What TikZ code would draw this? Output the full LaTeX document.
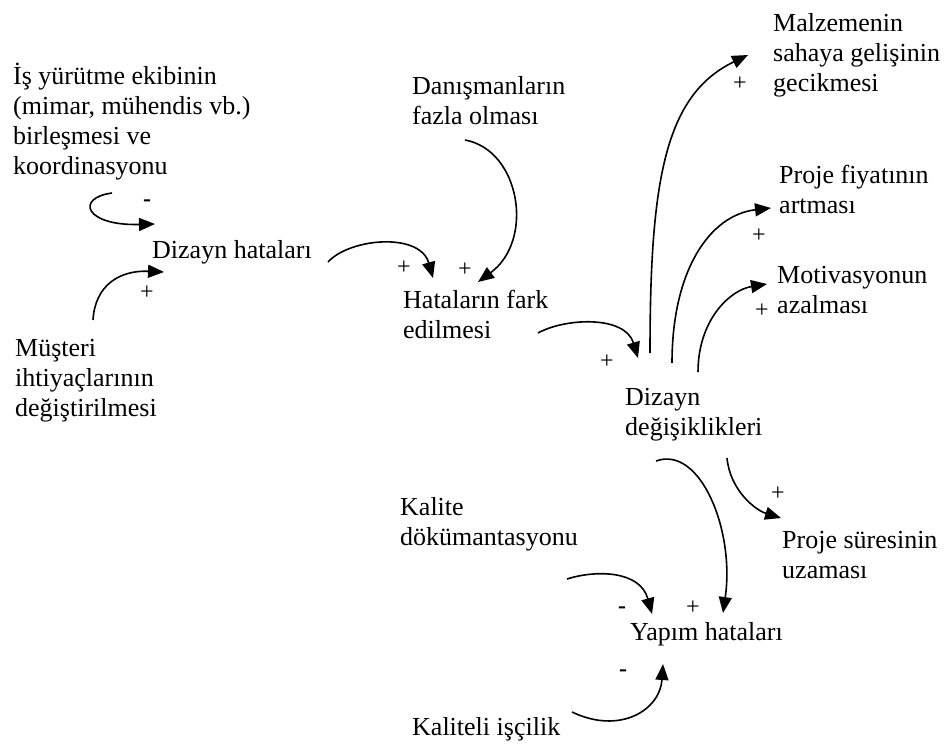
\documentclass[tikz,border=0pt]{standalone}
\usepackage{fontspec}
\setmainfont{Liberation Serif}
\usetikzlibrary{arrows.meta}
\begin{document}
\begin{tikzpicture}[x=1pt,y=-1pt,
  lbl/.style={inner sep=0pt,anchor=base west,align=left,
    font=\fontsize{26}{30}\selectfont},
  sgn/.style={inner sep=0pt,font=\fontsize{24}{24}\selectfont},
  neg/.style={inner sep=0pt,font=\fontsize{24}{24}\selectfont\bfseries},
  link/.style={line width=1.6pt,-{Triangle[length=16pt,width=13pt]}}]
\useasboundingbox[fill=white] (0,0) rectangle (945,747);

% factors (each placed at the baseline of its last line)
\node[lbl] (isler)   at (13,174)  {İş yürütme ekibinin\\(mimar, mühendis vb.)\\birleşmesi ve\\koordinasyonu};
\node[lbl] (dizhat)  at (152,258) {Dizayn hataları};
\node[lbl] (musteri) at (15,416)  {Müşteri\\ihtiyaçlarının\\değiştirilmesi};
\node[lbl] (danis)   at (412,124) {Danışmanların\\fazla olması};
\node[lbl] (hatfark) at (403,338) {Hataların fark\\edilmesi};
\node[lbl] (malz)    at (773,91)  {Malzemenin\\sahaya gelişinin\\gecikmesi};
\node[lbl] (fiyat)   at (779,213) {Proje fiyatının\\artması};
\node[lbl] (motiv)   at (777,313) {Motivasyonun\\azalması};
\node[lbl] (dizdeg)  at (625,435) {Dizayn\\değişiklikleri};
\node[lbl] (sure)    at (782,578) {Proje süresinin\\uzaması};
\node[lbl] (kalite)  at (400,545) {Kalite\\dökümantasyonu};
\node[lbl] (yapim)   at (630,640) {Yapım hataları};
\node[lbl] (iscilik) at (412,735) {Kaliteli işçilik};

% connector end points
\coordinate (a1s) at (112,193);  \coordinate (a1e) at (155,224);
\coordinate (a2s) at (93,320);   \coordinate (a2e) at (164,272);
\coordinate (a3s) at (328,262);  \coordinate (a3e) at (433,278);
\coordinate (a4s) at (465,140);  \coordinate (a4e) at (478,282);
\coordinate (a5s) at (538,333);  \coordinate (a5e) at (638,358);
\coordinate (a6s) at (650,353);  \coordinate (a6e) at (748,55);
\coordinate (a7s) at (672,363);  \coordinate (a7e) at (771,208);
\coordinate (a8s) at (698,372);  \coordinate (a8e) at (767,284);
\coordinate (a9s) at (656,461);  \coordinate (a9e) at (723,613);
\coordinate (a10s) at (727,458); \coordinate (a10e) at (781,518);
\coordinate (a11s) at (567,579); \coordinate (a11e) at (652,614);
\coordinate (a12s) at (572,712); \coordinate (a12e) at (663,664);

% causal links
\draw[link] (a1s) .. controls (75,198) and (85,226) .. (a1e);
\draw[link] (a2s) .. controls (95,285) and (120,270) .. (a2e);
\draw[link] (a3s) .. controls (350,238) and (420,232) .. (a3e);
\draw[link] (a4s) .. controls (520,150) and (535,240) .. (a4e);
\draw[link] (a5s) .. controls (565,318) and (625,315) .. (a5e);
\draw[link] (a6s) .. controls (650,180) and (665,95) .. (a6e);
\draw[link] (a7s) .. controls (672,270) and (710,215) .. (a7e);
\draw[link] (a8s) .. controls (698,320) and (730,290) .. (a8e);
\draw[link] (a9s) .. controls (700,445) and (735,530) .. (a9e);
\draw[link] (a10s) .. controls (730,490) and (755,510) .. (a10e);
\draw[link] (a11s) .. controls (595,570) and (640,570) .. (a11e);
\draw[link] (a12s) .. controls (620,735) and (660,710) .. (a12e);

% polarity signs
\node[neg] (s1)  at (147,203) {-};
\node[sgn] (s2)  at (147,293) {+};
\node[sgn] (s3)  at (404,268) {+};
\node[sgn] (s4)  at (465,270) {+};
\node[sgn] (s5)  at (607,362) {+};
\node[sgn] (s6)  at (740,84)  {+};
\node[sgn] (s7)  at (759,236) {+};
\node[sgn] (s8)  at (762,311) {+};
\node[sgn] (s9)  at (693,608) {+};
\node[sgn] (s10) at (778,494) {+};
\node[neg] (s11) at (622,610) {-};
\node[neg] (s12) at (623,673) {-};
\end{tikzpicture}
\end{document}
